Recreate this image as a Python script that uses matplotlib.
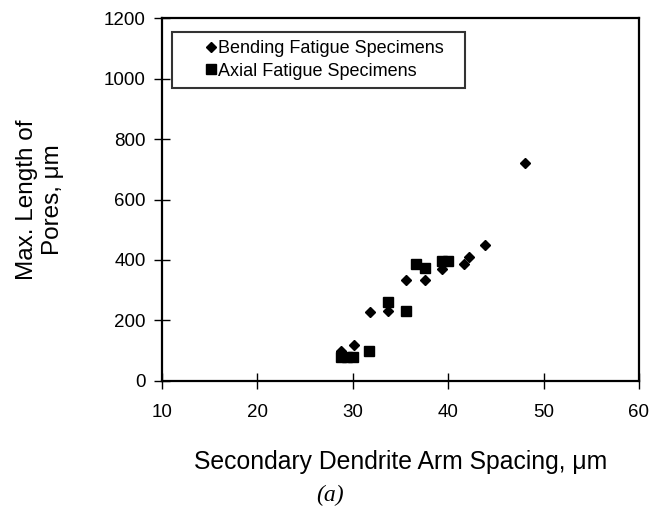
import numpy as np
import matplotlib
matplotlib.use("Agg")
import matplotlib.pyplot as plt

# secondary dendrite arm spacing (um) vs max pore length (um)
bending_sdas = [28.8, 30.1, 31.8, 33.7, 35.6, 37.6, 39.3, 41.7, 42.2, 43.9, 48.1]
bending_len = [100, 120, 228, 230, 333, 333, 369, 386, 410, 448, 720]

axial_sdas = [28.8, 29.4, 30.0, 31.7, 33.7, 35.6, 36.6, 37.6, 39.3, 40.0]
axial_len = [80, 80, 80, 99, 262, 231, 386, 375, 397, 397]

x_ticks = [10, 20, 30, 40, 50, 60]
y_ticks = [0, 200, 400, 600, 800, 1000, 1200]

plt.rcParams['font.family'] = ['Liberation Sans', 'DejaVu Sans']

fig = plt.figure(figsize=(6.63, 5.12), dpi=100)
ax = fig.add_axes([0.2443, 0.2559, 0.7195, 0.7089])

ax.plot(bending_sdas, bending_len, 'kD', ms=5.6, label='Bending Fatigue Specimens')
ax.plot(axial_sdas, axial_len, 'ks', ms=7.5, label='Axial Fatigue Specimens')

ax.set_xlim(10, 60)
ax.set_ylim(0, 1200)
ax.set_xticks(x_ticks)
ax.set_yticks(y_ticks)
ax.tick_params(direction='inout', length=11, width=1, labelsize=13.5, colors='black')
ax.tick_params(axis='x', pad=11)
ax.tick_params(axis='y', pad=6)
for sp in ax.spines.values():
    sp.set_linewidth(1.6)

ax.set_xlabel('Secondary Dendrite Arm Spacing, \u03bcm', fontsize=17.8, labelpad=21)
ax.set_ylabel('Max. Length of\nPores, \u03bcm', fontsize=17.5, labelpad=29,
              multialignment='center')

leg = ax.legend(loc='upper left', bbox_to_anchor=(0.021, 0.761, 0.614, 0.2),
                mode='expand', borderaxespad=0, numpoints=1, fontsize=13,
                frameon=True, fancybox=False, edgecolor='black',
                borderpad=0.45, handlelength=3.4, handletextpad=-1.3,
                labelspacing=0.3)
leg.get_frame().set_linewidth(1.5)

fig.text(0.497, 0.033, '(a)', fontsize=17, style='italic',
         family='Liberation Serif', ha='center', va='center')

fig.savefig('out.png', dpi=100)
